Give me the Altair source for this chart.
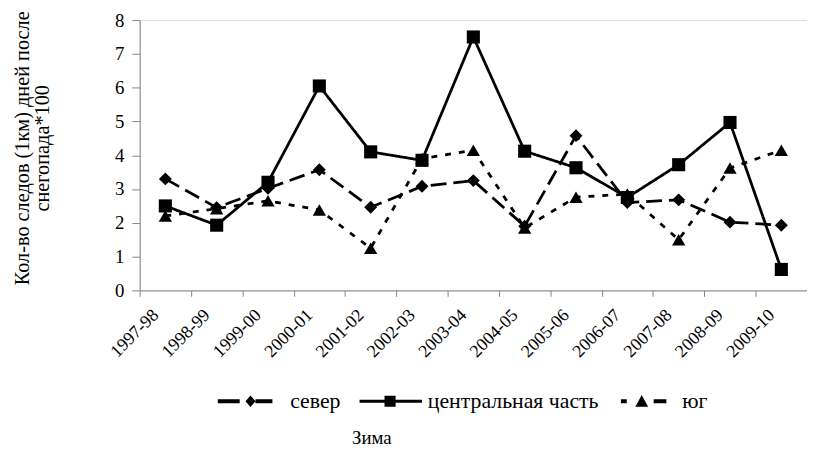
import altair as alt
import pandas as pd

winters = ["1997-98", "1998-99", "1999-00", "2000-01", "2001-02", "2002-03", "2003-04",
           "2004-05", "2005-06", "2006-07", "2007-08", "2008-09", "2009-10"]
sever = [3.3, 2.45, 3.02, 3.57, 2.46, 3.08, 3.25, 1.9, 4.58, 2.6, 2.68, 2.02, 1.93]
central = [2.5, 1.93, 3.2, 6.05, 4.1, 3.85, 7.5, 4.12, 3.63, 2.75, 3.72, 4.97, 0.62]
yug = [2.2, 2.42, 2.65, 2.38, 1.25, 3.9, 4.15, 1.85, 2.76, 2.85, 1.5, 3.62, 4.15]

series_names = ["север", "центральная часть", "юг"]
series_values = [sever, central, yug]

rows = []
for name, vals in zip(series_names, series_values):
    for w, v in zip(winters, vals):
        rows.append({"winter": w, "value": v, "series": name})
df = pd.DataFrame(rows)

FONT = "Liberation Serif, Times New Roman, serif"
AXIS_COLOR = "#868686"
W, H = 674, 273
step = W / len(winters)

x_enc = alt.X(
    "winter:N", sort=winters,
    scale=alt.Scale(type="point", padding=0.5),
    axis=alt.Axis(
        title="Зима", titleFont=FONT, titleFontSize=19, titleFontWeight="normal",
        titleColor="black", titleX=234, titleY=149, titleAnchor="middle",
        titleAlign="center", titleBaseline="middle",
        labelAngle=-45, labelAlign="right", labelBaseline="middle",
        labelFont=FONT, labelFontSize=18, labelColor="black",
        labelPadding=16, labelOffset=step / 2 - 10,
        tickOffset=-step / 2, tickSize=6, tickColor=AXIS_COLOR,
        domainColor=AXIS_COLOR, grid=False, labelOverlap=False,
    ),
)
y_enc = alt.Y(
    "value:Q", scale=alt.Scale(domain=[0, 8], nice=False),
    axis=alt.Axis(
        title=["Кол-во следов (1км) дней после", "снегопада*100"],
        titleFont=FONT, titleFontSize=20.5, titleFontWeight="normal", titleColor="black",
        titleX=-118, titleY=129, titleAngle=-90, titleAlign="center",
        titleBaseline="middle", titleLineHeight=20,
        values=list(range(0, 9)), labelFont=FONT, labelFontSize=19, labelColor="black",
        labelPadding=8, tickSize=8, tickColor=AXIS_COLOR, domainColor=AXIS_COLOR,
        grid=False,
    ),
)

lines = alt.Chart(df).mark_line(color="black", strokeWidth=2.8).encode(
    x=x_enc, y=y_enc,
    strokeDash=alt.StrokeDash(
        "series:N", sort=series_names,
        scale=alt.Scale(domain=series_names, range=[[16, 7], [1, 0], [6, 8]]),
        legend=None,
    ),
    detail="series:N",
)

points = alt.Chart(df).mark_point(filled=True, color="black", opacity=1).encode(
    x=x_enc, y=y_enc,
    shape=alt.Shape(
        "series:N", sort=series_names,
        scale=alt.Scale(domain=series_names, range=["diamond", "square", "triangle-up"]),
        legend=None,
    ),
    size=alt.Size(
        "series:N", sort=series_names,
        scale=alt.Scale(domain=series_names, range=[170, 180, 200]),
        legend=None,
    ),
)

legend_paths = [
    "M-1.29,-0.07L-0.5,-0.07L-0.5,0.07L-1.29,0.07Z"
    "M0.07,-0.07L0.68,-0.07L0.68,0.07L0.07,0.07Z"
    "M-0.11,-0.21L0.07,0L-0.11,0.21L-0.29,0Z",
    "M-1.14,-0.054L1.11,-0.054L1.11,0.054L-1.14,0.054Z"
    "M-0.24,-0.2L0.16,-0.2L0.16,0.2L-0.24,0.2Z",
    "M-0.89,-0.07L-0.68,-0.07L-0.68,0.07L-0.89,0.07Z"
    "M0.29,-0.07L0.75,-0.07L0.75,0.07L0.29,0.07Z"
    "M-0.14,-0.23L0.09,0.2L-0.37,0.2Z",
]

legend_layer = alt.Chart(df).mark_point(
    filled=True, color="black", opacity=0
).encode(
    x=x_enc, y=y_enc,
    shape=alt.Shape(
        "series:N", sort=series_names,
        scale=alt.Scale(domain=series_names, range=legend_paths),
        legend=alt.Legend(
            title=None, orient="none", direction="horizontal",
            legendX=87, legendY=357,
            symbolSize=3136, symbolOpacity=1, symbolFillColor="black",
            symbolStrokeColor="black", symbolStrokeWidth=0,
            labelFont=FONT, labelFontSize=22, labelColor="black",
            labelOffset=9, columnPadding=19, labelLimit=400,
        ),
    ),
)

chart = alt.layer(lines, points, legend_layer).resolve_scale(
    shape="independent"
).properties(
    width=W, height=H,
    autosize=alt.AutoSizeParams(type="none"),
    padding={"left": 133, "top": 10, "right": 0, "bottom": 160},
).configure_view(stroke=None).configure(background="white", font=FONT)

chart.save("out.html", embed_options={"renderer": "svg", "actions": False})
